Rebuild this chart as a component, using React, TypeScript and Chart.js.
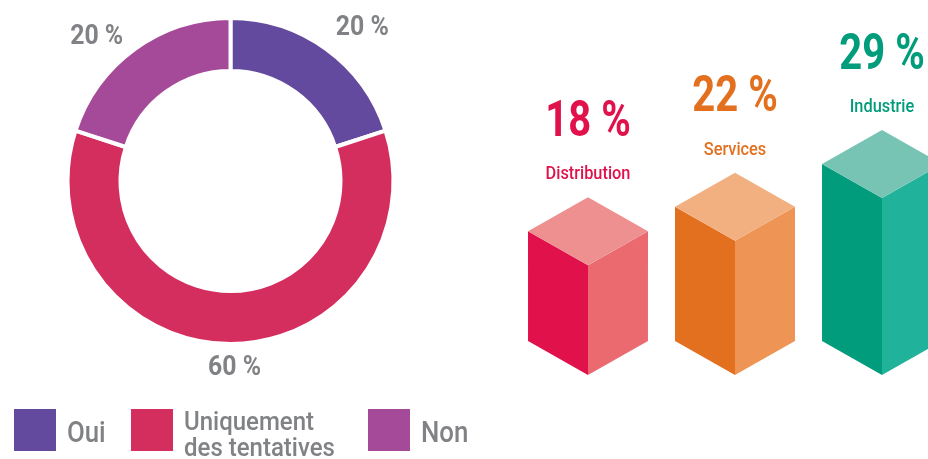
import React, { useEffect, useRef } from "react";
import { Chart, registerables } from "chart.js";

Chart.register(...registerables);

// ---- Donut data ----
const donutLabels = ["Oui", "Uniquement des tentatives", "Non"];
const donutLegendLines = [["Oui"], ["Uniquement", "des tentatives"], ["Non"]];
const donutValues = [20, 60, 20];
const donutColors = ["#634A9E", "#D42E5F", "#A54A98"];

// ---- Sector bars data ----
const sectorLabels = ["Distribution", "Services", "Industrie"];
const sectorValues = [18, 22, 29];
const sectorFront = ["#E0114B", "#E3701F", "#009C7C"];
const sectorSide = ["#EA6A70", "#EE9455", "#20B29A"];
const sectorTop = ["#EE9090", "#F2B080", "#78C4B4"];

const FONT = "Roboto, 'Noto Sans', sans-serif";
const GREY = "#808285";

// legend layout (square left edges)
const legendSquareX = [14, 131, 368];

function condensedText(
  ctx: CanvasRenderingContext2D,
  text: string,
  x: number,
  y: number,
  sx: number
) {
  ctx.save();
  ctx.translate(x, y);
  ctx.scale(sx, 1);
  ctx.fillText(text, 0, 0);
  ctx.restore();
}

const donutLabelPlugin = {
  id: "donutLabels",
  afterDatasetsDraw(chart: any) {
    const ctx = chart.ctx;
    const meta = chart.getDatasetMeta(0);
    const nudges = [
      [36, -21],
      [4, 24],
      [-38, -12],
    ];
    ctx.save();
    ctx.font = `bold 27px ${FONT}`;
    ctx.fillStyle = GREY;
    ctx.textAlign = "center";
    ctx.textBaseline = "middle";
    meta.data.forEach((arc: any, i: number) => {
      const p = arc.getProps(["x", "y", "startAngle", "endAngle", "outerRadius"], true);
      const mid = (p.startAngle + p.endAngle) / 2;
      const ax = p.x + Math.cos(mid) * p.outerRadius;
      const ay = p.y + Math.sin(mid) * p.outerRadius;
      condensedText(ctx, `${donutValues[i]} %`, ax + nudges[i][0], ay + nudges[i][1], 0.92);
    });
    ctx.restore();
  },
};

function poly(ctx: CanvasRenderingContext2D, pts: number[][], color: string) {
  ctx.beginPath();
  ctx.moveTo(pts[0][0], pts[0][1]);
  for (let k = 1; k < pts.length; k++) ctx.lineTo(pts[k][0], pts[k][1]);
  ctx.closePath();
  ctx.fillStyle = color;
  ctx.fill();
}

const prismPlugin = {
  id: "prisms",
  afterDatasetsDraw(chart: any) {
    const ctx = chart.ctx;
    const meta = chart.getDatasetMeta(0);
    ctx.save();
    ctx.textAlign = "center";
    ctx.textBaseline = "middle";
    meta.data.forEach((bar: any, i: number) => {
      const { x, y, base, width } = bar.getProps(["x", "y", "base", "width"], true);
      const hw = width / 2;
      const d = hw * 0.567;
      poly(ctx, [[x - hw, y - d], [x, y], [x, base], [x - hw, base - d]], sectorFront[i]);
      poly(ctx, [[x, y], [x + hw, y - d], [x + hw, base - d], [x, base]], sectorSide[i]);
      poly(ctx, [[x, y], [x - hw, y - d], [x, y - 2 * d], [x + hw, y - d]], sectorTop[i]);
      const apex = y - 2 * d;
      ctx.fillStyle = sectorFront[i];
      ctx.font = `500 19px ${FONT}`;
      condensedText(ctx, sectorLabels[i], x, apex - 23, 0.86);
      ctx.font = `bold 50px ${FONT}`;
      condensedText(ctx, `${sectorValues[i]} %`, x, apex - 74, 0.8);
    });
    ctx.restore();
  },
};

export default function App() {
  const donutRef = useRef<HTMLCanvasElement>(null);
  const barRef = useRef<HTMLCanvasElement>(null);

  useEffect(() => {
    document.body.style.margin = "0";
    const donut = new Chart(donutRef.current!, {
      type: "doughnut",
      data: {
        labels: donutLabels,
        datasets: [
          {
            data: donutValues,
            backgroundColor: donutColors,
            borderColor: "#ffffff",
            borderWidth: 4,
          },
        ],
      },
      options: {
        responsive: false,
        animation: false,
        cutout: "67.5%",
        layout: { padding: { left: 65.5, right: 74.5, top: 16, bottom: 113 } },
        plugins: { legend: { display: false }, tooltip: { enabled: false } },
      },
      plugins: [donutLabelPlugin],
    } as any);

    const bars = new Chart(barRef.current!, {
      type: "bar",
      data: {
        labels: sectorLabels,
        datasets: [
          {
            data: sectorValues,
            backgroundColor: "rgba(0,0,0,0)",
            barPercentage: 0.816,
            categoryPercentage: 1,
          },
        ],
      },
      options: {
        responsive: false,
        animation: false,
        layout: { padding: { left: 44.5, right: 14.5, top: 131, bottom: 84 } },
        scales: {
          x: { display: false },
          y: { display: false, min: 0, max: 40 },
        },
        plugins: { legend: { display: false }, tooltip: { enabled: false } },
      },
      plugins: [prismPlugin],
    } as any);

    return () => {
      donut.destroy();
      bars.destroy();
    };
  }, []);

  return (
    <div
      style={{
        position: "fixed",
        left: 0,
        top: 0,
        width: 928,
        height: 459,
        overflow: "hidden",
        background: "#ffffff",
      }}
    >
      <canvas
        ref={donutRef}
        width={470}
        height={459}
        style={{ position: "absolute", left: 0, top: 0, width: 470, height: 459 }}
      />
      <canvas
        ref={barRef}
        width={500}
        height={459}
        style={{ position: "absolute", left: 470, top: 0, width: 500, height: 459 }}
      />
      {donutLabels.map((label, i) => {
        const multi = donutLegendLines[i].length > 1;
        return (
          <div
            key={label}
            style={{
              position: "absolute",
              left: legendSquareX[i],
              top: 409,
              height: 42,
              display: "flex",
              alignItems: "center",
              fontFamily: FONT,
              fontWeight: 500,
              color: GREY,
            }}
          >
            <div style={{ width: 42, height: 42, background: donutColors[i], flex: "none" }} />
            <div
              style={{
                marginLeft: 11,
                fontSize: multi ? 25 : 30,
                lineHeight: multi ? "26px" : "30px",
                paddingTop: multi ? 10 : 4,
                transform: multi ? "scaleX(0.96)" : "scaleX(0.86)",
                transformOrigin: "left center",
              }}
            >
              {donutLegendLines[i].map((line) => (
                <div key={line} style={{ whiteSpace: "nowrap" }}>
                  {line}
                </div>
              ))}
            </div>
          </div>
        );
      })}
    </div>
  );
}
